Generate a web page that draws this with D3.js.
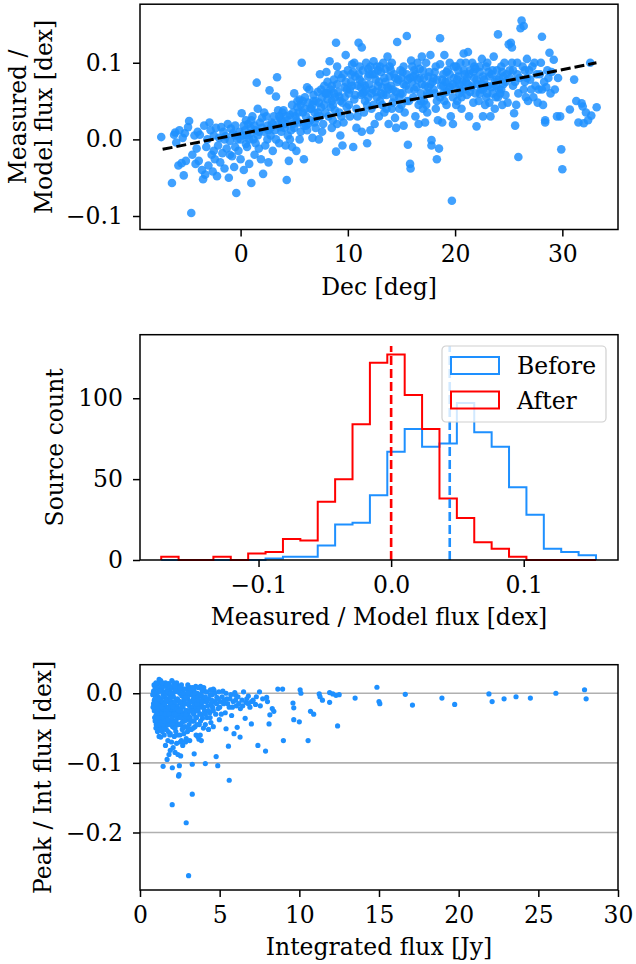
<!DOCTYPE html>
<html>
<head>
<meta charset="utf-8">
<script src="https://cdn.jsdelivr.net/npm/d3@7"></script>
<style>
  body { margin: 0; background: #fff; }
  text { font-family: "DejaVu Serif", serif; }
</style>
</head>
<body>
<script>
// ---- top panel: Dec vs measured/model flux ----
const decFlux = [
  [-7.4,0.003],[-6.4,-0.057],[-6.2,0.006],[-6.0,-0.004],[-6.1,0.009],
  [-5.8,-0.034],[-5.7,0.012],[-5.5,-0.031],[-5.4,0.002],[-5.3,-0.047],[-5.2,0.008],[-5.1,-0.028],
  [-4.9,0.016],[-4.8,0.024],[-4.6,-0.096],[-4.5,-0.02],[-4.3,0.005],[-4.2,-0.032],[-4.1,-0.012],[-4.0,0.01],
  [-3.9,-0.028],[-3.8,0.006],[-3.6,-0.04],[-3.5,-0.052],[-3.4,0.018],[-3.3,-0.046],[-3.2,-0.01],[-3.1,0.0],[-3.0,-0.034],
  [-2.9,0.022],[-2.8,0.012],[-2.7,-0.02],[-2.6,-0.042],[-2.5,0.005],[-2.4,-0.026],[-2.3,0.015],[-2.2,-0.048],[-2.1,-0.008],[-2.0,0.002],
  [-1.9,-0.03],[-1.8,0.016],[-1.7,-0.018],[-1.6,0.01],[-1.5,-0.038],[-1.4,0.004],[-1.3,-0.012],[-1.2,0.02],[-1.1,-0.05],[-1.0,-0.002],
  [-0.9,0.014],[-0.8,-0.022],[-0.7,0.008],[-0.6,-0.036],[-0.5,0.018],[-0.4,-0.07],[-0.3,0.0],[-0.2,-0.015],[-0.1,0.01],[0.0,-0.026],
  [0.1,0.034],[0.2,0.005],[0.3,-0.04],[0.4,0.012],[0.5,0.025],[0.6,-0.01],[0.7,0.02],[0.8,-0.032],[0.9,0.008],[0.95,0.015],[0.5,-0.006],
  [1.0,-0.057],[1.1,0.03],[1.2,0.0],[1.3,-0.02],[1.4,0.012],[1.5,0.074],[1.6,0.04],[1.7,-0.012],[1.8,0.022],[1.9,-0.026],[1.3,0.018],[1.6,0.005],
  [2.0,0.028],[2.1,-0.045],[2.2,0.01],[2.3,-0.008],[2.4,0.03],[2.5,0.018],[2.6,-0.03],[2.7,0.064],[2.8,0.005],[2.9,0.022],[2.2,0.035],[2.6,0.012],
  [3.0,-0.015],[3.1,0.03],[3.2,0.012],[3.3,0.056],[3.4,0.081],[3.5,0.02],[3.6,-0.005],[3.7,0.028],[3.8,0.01],[3.9,0.035],[3.3,0.0],[3.7,0.016],
  [4.0,0.038],[4.1,0.015],[4.2,-0.008],[4.3,-0.053],[4.4,0.025],[4.5,-0.028],[4.6,0.032],[4.7,0.012],[4.8,0.045],[4.9,0.02],[4.4,0.005],[4.8,-0.01],
  [5.0,0.06],[5.1,0.03],[5.2,-0.015],[5.3,0.042],[5.4,0.022],[5.5,0.052],[5.6,0.01],[5.7,0.1],[5.8,0.035],[5.9,-0.026],[5.2,0.025],[5.6,0.045],[5.9,0.018],
  [6.0,0.055],[6.1,0.03],[6.2,0.012],[6.3,0.048],[6.4,0.065],[6.5,0.025],[6.6,0.04],[6.7,0.002],[6.8,0.058],[6.9,0.035],[6.3,0.02],[6.7,0.045],
  [7.0,0.05],[7.1,0.028],[7.2,0.062],[7.3,0.0],[7.4,0.085],[7.5,0.042],[7.6,0.055],[7.7,0.02],[7.8,0.07],[7.9,0.035],[7.3,0.048],[7.6,0.01],[7.9,0.06],
  [8.0,0.088],[8.1,0.052],[8.2,0.03],[8.3,0.102],[8.4,0.065],[8.5,0.015],[8.6,0.045],[8.7,0.078],[8.8,0.038],[8.9,0.126],[8.2,0.06],[8.5,0.07],[8.8,0.055],[8.9,-0.016],
  [9.0,0.095],[9.1,0.062],[9.2,0.035],[9.3,0.005],[9.4,0.08],[9.5,0.048],[9.6,0.022],[9.7,0.068],[9.8,0.11],[9.9,0.042],[9.2,0.056],[9.5,-0.008],[9.8,0.075],[9.0,0.02],
  [10.0,0.09],[10.1,0.06],[10.2,0.03],[10.3,0.075],[10.4,0.098],[10.5,-0.01],[10.6,0.052],[10.7,0.082],[10.8,0.04],[10.9,0.07],[10.2,0.065],[10.5,0.088],[10.8,0.015],[11.0,0.126],
  [11.1,0.078],[11.2,0.058],[11.3,0.12],[11.4,0.09],[11.5,0.035],[11.6,0.07],[11.7,0.1],[11.8,0.045],[11.9,0.082],[11.2,0.068],[11.5,0.062],[11.8,-0.005],[11.3,0.01],[11.9,0.055],
  [12.0,0.072],[12.1,0.095],[12.2,0.04],[12.3,0.065],[12.4,0.102],[12.5,0.02],[12.6,0.078],[12.7,0.055],[12.8,0.09],[12.9,0.03],[12.3,0.085],[12.6,0.062],[12.9,0.075],[12.1,0.012],
  [13.0,0.05],[13.1,0.088],[13.2,0.068],[13.3,0.1],[13.4,0.035],[13.5,0.075],[13.6,0.058],[13.7,0.108],[13.8,0.02],[13.9,0.082],[13.2,0.045],[13.5,0.092],[13.8,0.065],
  [14.0,0.07],[14.1,0.1],[14.2,0.048],[14.3,0.085],[14.4,0.028],[14.5,0.062],[14.6,0.127],[14.7,0.078],[14.8,0.04],[14.9,0.09],[14.2,0.065],[14.5,0.015],[14.8,0.055],
  [15.0,0.08],[15.1,0.06],[15.2,0.095],[15.3,0.035],[15.4,0.07],[15.5,0.135],[15.6,-0.007],[15.7,0.05],[15.8,-0.032],[15.85,-0.038],[15.9,0.103],[15.2,0.018],[15.5,0.085],[15.7,0.065],
  [16.0,0.075],[16.1,0.055],[16.2,0.09],[16.3,0.03],[16.4,0.068],[16.5,0.1],[16.6,0.045],[16.7,0.08],[16.8,0.06],[16.9,0.108],[16.3,0.085],[16.6,0.02],[16.9,0.072],
  [17.0,0.09],[17.1,0.05],[17.2,0.07],[17.3,0.1],[17.4,0.035],[17.5,0.082],[17.6,0.06],[17.7,0.11],[17.8,-0.001],[17.9,0.075],[17.3,0.045],[17.6,0.088],[17.8,-0.008],[17.2,0.022],
  [18.0,0.08],[18.1,0.06],[18.2,0.095],[18.3,-0.026],[18.4,0.025],[18.5,-0.012],[18.6,0.132],[18.7,0.07],[18.8,0.022],[18.9,0.085],[18.3,0.05],[18.6,0.098],[18.9,0.06],
  [19.0,0.11],[19.1,0.075],[19.2,0.045],[19.3,0.09],[19.4,0.065],[19.5,0.1],[19.6,0.03],[19.7,-0.08],[19.8,0.055],[19.9,0.08],[19.2,0.062],[19.5,0.085],[19.8,0.02],
  [20.0,0.07],[20.1,0.095],[20.2,0.05],[20.3,0.082],[20.4,0.06],[20.5,0.1],[20.6,0.04],[20.7,0.075],[20.8,0.112],[20.9,0.065],[20.3,0.09],[20.6,0.055],[20.9,0.085],
  [21.0,0.075],[21.1,0.058],[21.2,0.114],[21.3,0.03],[21.4,0.09],[21.5,0.068],[21.6,0.1],[21.7,0.048],[21.8,0.08],[21.9,0.06],[21.3,0.085],[21.6,0.07],[21.9,0.092],
  [22.0,0.017],[22.1,0.072],[22.2,0.05],[22.3,0.088],[22.4,0.065],[22.5,0.105],[22.6,0.03],[22.7,0.078],[22.8,0.045],[22.9,0.095],[22.3,0.06],[22.6,0.082],[22.9,0.07],
  [23.0,0.1],[23.1,0.07],[23.2,0.048],[23.3,0.03],[23.4,0.085],[23.5,0.06],[23.6,0.108],[23.7,0.075],[23.8,0.055],[23.9,0.09],[23.4,0.068],[23.7,0.04],
  [24.0,0.137],[24.1,0.08],[24.2,0.06],[24.3,0.095],[24.4,0.045],[24.5,0.072],[24.6,0.1],[24.7,0.058],[24.8,0.085],[24.9,0.048],[24.3,0.065],
  [25.0,0.124],[25.1,0.09],[25.2,0.126],[25.3,0.12],[25.4,0.07],[25.5,0.034],[25.6,0.018],[25.7,0.045],[25.8,0.085],[25.9,-0.023],[25.3,0.1],[25.6,0.075],[25.9,0.06],
  [26.1,0.145],[26.2,0.155],[26.4,0.148],[26.3,0.095],[26.5,0.075],[26.6,0.055],[26.7,0.08],[26.8,0.05],[26.9,0.09],[26.4,0.065],[26.7,0.105],
  [27.0,0.078],[27.2,0.095],[27.3,0.055],[27.5,0.07],[27.7,0.048],[27.9,0.085],[27.4,0.1],[27.8,0.065],
  [28.0,0.1],[28.1,0.134],[28.2,0.045],[28.3,0.075],[28.4,0.025],[28.5,0.068],[28.6,0.09],[28.8,0.113],[28.9,0.06],[28.4,0.022],
  [29.0,0.088],[29.2,0.104],[29.3,0.065],[29.5,0.03],[29.8,0.03],[29.9,-0.013],[30.0,-0.039],[29.6,0.08],
  [30.7,0.039],[31.1,0.078],[31.5,0.022],[31.8,0.047],[31.9,0.043],[32.0,0.021],[32.2,0.035],[32.6,0.1],[32.7,0.031],[33.2,0.042],[32.4,0.025],[31.3,0.05],
  // denser core
  [4.2,0.02],[4.6,0.0],[5.0,0.015],[5.4,0.035],[5.8,0.05],[6.1,0.018],[6.5,0.04],[6.9,0.022],[7.2,0.035],[7.5,0.065],[7.8,0.045],[4.9,0.035],[5.5,0.0],[6.2,0.068],[7.0,0.015],
  [8.1,0.075],[8.4,0.042],[8.7,0.06],[9.0,0.072],[9.3,0.05],[9.6,0.085],[9.9,0.065],[10.1,0.045],[10.4,0.07],[10.7,0.058],[11.0,0.085],[11.3,0.075],[11.6,0.05],[11.9,0.092],[8.6,0.025],[9.4,0.03],[10.9,0.03],[11.4,0.06],
  [12.2,0.06],[12.5,0.085],[12.8,0.07],[13.1,0.06],[13.4,0.08],[13.7,0.068],[14.0,0.09],[14.3,0.055],[14.6,0.075],[14.9,0.06],[15.2,0.072],[15.5,0.05],[15.8,0.08],[12.4,0.045],[13.0,0.095],[14.1,0.04],[15.0,0.045],[13.6,0.04],
  [16.2,0.065],[16.5,0.078],[16.8,0.05],[17.1,0.08],[17.4,0.06],[17.7,0.072],[18.0,0.065],[18.3,0.078],[18.6,0.055],[18.9,0.07],[19.2,0.088],[19.5,0.068],[19.8,0.072],[16.0,0.095],[17.0,0.04],[18.2,0.04],[19.0,0.05],
  [20.2,0.078],[20.5,0.065],[20.8,0.09],[21.1,0.08],[21.4,0.062],[21.7,0.088],[22.0,0.078],[22.3,0.095],[22.6,0.065],[22.9,0.055],[23.2,0.082],[23.5,0.09],[23.8,0.07],[24.1,0.065],[24.4,0.088],[24.7,0.075],[20.1,0.045],[21.0,0.1],[23.0,0.06],[24.0,0.055],
  [-2.5,-0.015],[-1.5,0.0],[-0.5,0.005],[0.3,0.018],[0.8,0.0],[1.4,-0.005],[2.0,0.015],[2.5,0.0],[3.0,0.02],[3.5,0.038],[3.8,0.025],[-1.0,-0.02],[0.0,0.0],[1.0,0.025],
  [25.4,0.09],[26.0,0.08],[26.5,0.09],[27.1,0.065],[27.6,0.085],[28.1,0.065],[28.7,0.08],[25.8,0.1],
  [5.3,0.05],[6.0,0.04],[6.8,0.05],[7.4,0.03],[8.0,0.06],[8.5,0.05],[9.1,0.085],[9.7,0.055],[10.3,0.085],[10.6,0.1],
  [11.1,0.095],[11.7,0.065],[12.0,0.085],[12.7,0.095],[13.3,0.058],[13.9,0.095],[14.4,0.08],[15.1,0.088],[15.6,0.078],[16.1,0.082],
  [16.7,0.092],[17.5,0.068],[18.1,0.088],[18.8,0.078],[19.3,0.075],[19.9,0.095],[20.4,0.072],[21.2,0.072],[21.8,0.095],[22.5,0.072],
  [23.1,0.088],[23.9,0.078],[24.5,0.082],[25.1,0.08],[2.8,0.015],[3.6,0.03],[4.3,0.03],[-0.5,-0.01],[0.6,0.005],[1.7,0.01]
];
const fitDec = [-7.27, 33.18];
const fitVal = [-0.013, 0.0999];

// ---- middle panel: histograms ----
const binLo = -0.1734, binHi = 0.1545, nBins = 25;
const countsBefore = [0,0,0,0,0,0,1,2,2,9,22,23,40,67,81,70,72,97,79,70,45,28,7,5,3];
const countsAfter  = [2,0,0,2,0,4,5,13,12,36,50,84,122,127,102,81,38,26,11,7,2,0,0,0,0];
const medianBefore = 0.0442, medianAfter = 0.0, medianLineTop = 132.3;
const legendLabels = ["Before", "After"];

// ---- bottom panel: integrated flux vs peak/int ----
const fluxRatio = [
  [0.8,-0.002],[0.85,0.003],[0.9,-0.01],[0.9,-0.025],[0.95,0.008],[0.95,-0.018],[1.0,-0.004],[1.0,-0.032],[1.05,0.012],[1.05,-0.012],
  [1.1,-0.022],[1.1,0.001],[1.12,-0.04],[1.15,0.006],[1.15,-0.028],[1.18,-0.015],[1.2,0.02],[1.2,-0.05],[1.2,-0.062],[0.85,-0.015],
  [0.92,-0.035],[1.02,-0.045],[1.08,-0.006],[1.17,-0.035],
  [1.25,0.015],[1.25,-0.008],[1.3,-0.02],[1.3,-0.063],[1.32,0.004],[1.35,-0.03],[1.35,-0.045],[1.38,-0.012],[1.4,0.008],[1.4,-0.055],
  [1.42,-0.025],[1.45,-0.105],[1.45,-0.002],[1.48,-0.038],[1.5,-0.015],[1.5,0.012],[1.52,-0.06],[1.55,-0.028],[1.55,-0.005],[1.58,-0.045],
  [1.6,-0.075],[1.28,-0.04],[1.33,-0.01],[1.43,-0.018],[1.53,-0.035],[1.57,0.002],
  [1.62,0.01],[1.62,-0.02],[1.65,-0.052],[1.68,-0.008],[1.7,-0.035],[1.7,-0.095],[1.72,0.004],[1.75,-0.025],[1.75,-0.068],[1.78,-0.012],
  [1.8,0.014],[1.8,-0.045],[1.82,-0.088],[1.85,-0.03],[1.85,-0.002],[1.88,-0.018],[1.9,-0.058],[1.9,-0.082],[1.92,0.006],[1.95,-0.04],
  [1.95,-0.012],[1.98,-0.025],[1.98,-0.07],[1.66,-0.04],[1.77,-0.055],[1.87,-0.06],[1.93,-0.03],
  [2.02,-0.16],[2.03,-0.107],[2.02,0.008],[2.05,-0.02],[2.05,-0.048],[2.08,-0.078],[2.1,-0.005],[2.1,-0.032],[2.12,0.015],[2.15,-0.015],
  [2.15,-0.062],[2.18,-0.04],[2.2,0.002],[2.2,-0.085],[2.22,-0.025],[2.25,-0.01],[2.25,-0.055],[2.28,0.012],[2.3,-0.035],[2.3,-0.072],
  [2.32,-0.018],[2.35,-0.045],[2.35,0.005],[2.38,-0.028],[2.38,-0.088],[2.07,-0.03],[2.17,-0.05],[2.27,-0.04],[2.33,-0.06],
  [2.42,-0.119],[2.45,-0.117],[2.47,-0.104],[2.42,0.01],[2.45,-0.012],[2.48,-0.035],[2.5,-0.06],[2.5,0.0],[2.52,-0.022],[2.55,-0.045],
  [2.55,-0.09],[2.58,0.008],[2.6,-0.015],[2.6,-0.068],[2.62,-0.03],[2.65,-0.004],[2.65,-0.052],[2.68,-0.075],[2.7,-0.02],[2.7,0.005],
  [2.72,-0.04],[2.75,-0.01],[2.75,-0.058],[2.78,-0.028],[2.53,-0.07],[2.63,-0.042],
  [2.82,-0.048],[2.85,-0.003],[2.88,-0.025],[2.9,-0.186],[2.9,-0.065],[2.92,0.006],[2.95,-0.015],[2.95,-0.038],[2.98,-0.055],[3.0,-0.008],
  [3.05,-0.262],[3.02,-0.03],[3.05,0.004],[3.08,-0.045],[3.1,-0.018],[3.12,-0.068],[3.15,-0.002],[3.15,-0.035],[3.18,-0.025],[3.2,-0.012],
  [2.86,-0.07],[3.0,-0.05],
  [3.22,-0.052],[3.25,0.002],[3.28,-0.145],[3.28,-0.102],[3.3,-0.02],[3.32,-0.04],[3.35,-0.008],[3.38,-0.03],[3.4,-0.087],[3.4,0.005],
  [3.42,-0.015],[3.45,-0.048],[3.48,-0.025],[3.5,-0.005],[3.52,-0.06],[3.55,-0.035],[3.58,-0.012],[3.6,0.0],[3.35,-0.05],[3.5,-0.02],
  [3.62,-0.062],[3.65,-0.025],[3.68,0.008],[3.7,-0.066],[3.72,-0.045],[3.75,-0.012],[3.78,-0.06],[3.8,0.01],[3.82,-0.03],[3.85,-0.068],
  [3.88,-0.004],[3.9,-0.02],[3.92,-0.036],[3.95,-0.008],[3.98,-0.05],[3.7,-0.02],[3.85,-0.015],
  [4.02,0.003],[4.05,-0.025],[4.1,-0.101],[4.1,-0.045],[4.12,-0.012],[4.18,0.002],[4.2,-0.035],[4.25,-0.018],[4.3,-0.052],[4.32,-0.008],
  [4.38,-0.028],[4.42,0.005],[4.45,-0.042],[4.48,-0.015],
  [4.52,-0.002],[4.55,-0.02],[4.6,-0.048],[4.65,0.004],[4.7,-0.012],[4.75,-0.03],[4.78,-0.091],[4.82,-0.006],[4.88,-0.104],[4.9,-0.022],
  [4.95,0.002],[4.98,-0.038],
  [5.05,-0.012],[5.1,-0.03],[5.2,0.003],[5.25,-0.015],[5.35,-0.028],[5.4,-0.051],[5.45,-0.008],[5.55,-0.076],[5.6,-0.125],[5.6,-0.02],
  [5.7,-0.002],[5.75,-0.032],[5.85,-0.012],[5.9,-0.058],[5.95,0.001],
  [6.05,-0.018],[6.1,-0.049],[6.15,-0.005],[6.28,-0.063],[6.3,-0.022],[6.4,-0.01],[6.5,0.002],[6.6,-0.036],[6.65,-0.013],[6.8,-0.004],
  [6.9,-0.02],[6.99,-0.044],
  [7.1,-0.01],[7.25,-0.016],[7.4,-0.075],[7.5,0.002],[7.55,-0.018],[7.7,-0.008],[7.88,-0.083],[7.95,-0.006],[8.0,-0.012],[8.1,-0.044],
  [8.15,-0.031],[8.3,-0.022],[8.4,-0.026],
  [8.65,0.006],[8.95,0.006],[9.0,-0.068],[9.6,-0.014],[9.65,-0.021],[9.65,-0.038],[10.0,-0.041],[10.05,0.005],[10.1,0.0],[10.55,-0.068],
  [10.7,-0.026],[10.9,-0.03],[11.25,-0.001],[11.3,-0.005],[11.45,-0.01],[11.9,-0.013],[11.9,0.001],[12.1,-0.001],[12.3,-0.003],[12.4,-0.047],
  [12.5,-0.002],[13.5,-0.007],[14.87,0.0086],[15.0,-0.012],[15.05,-0.015],[16.65,-0.0015],[17.1,-0.017],[18.95,-0.007],[19.75,-0.016],
  [21.9,-0.001],[22.1,-0.012],[22.85,-0.008],[23.6,-0.005],[24.5,-0.007],[26.1,0.0],[27.9,0.005],[28.0,-0.008],
  // denser core
  [0.9,0.0],[0.95,-0.008],[1.0,0.008],[1.05,-0.02],[1.1,-0.01],[1.15,-0.005],[1.2,-0.025],[1.25,0.003],[1.3,-0.03],[1.35,0.01],
  [1.4,-0.035],[1.45,-0.022],[1.5,-0.005],[1.55,-0.015],[1.6,0.0],[1.65,-0.025],[1.7,-0.01],[1.75,0.002],[1.8,-0.02],[1.85,-0.04],
  [1.9,-0.008],[1.95,0.0],[2.0,-0.015],[2.05,0.0],[2.1,-0.02],[2.15,-0.03],[2.2,-0.012],[2.25,0.004],[2.3,-0.022],[2.35,-0.008],
  [2.4,-0.03],[2.45,0.002],[2.5,-0.012],[2.55,-0.025],[2.6,-0.002],[2.65,-0.018],[2.7,-0.032],[2.75,0.0],[2.8,-0.015],[2.85,-0.035],
  [2.9,-0.005],[2.95,-0.025],[3.0,0.0],[3.05,-0.015],[3.1,-0.035],[3.15,0.008],[3.2,-0.025],[3.25,-0.012],[3.3,-0.002],[3.35,-0.028],
  [3.4,-0.01],[3.45,0.0],[3.5,-0.035],[3.55,-0.015],[3.6,-0.025],[3.65,-0.005],[3.7,-0.01],[3.75,-0.03],[3.8,-0.002],[3.9,-0.012],
  [4.0,-0.02],[4.1,-0.005],[4.2,-0.012],[4.3,-0.025],[4.4,-0.002],[4.5,-0.01],[4.6,-0.025],[4.7,0.0],[4.8,-0.015],[4.9,-0.008],
  [5.0,-0.02],[5.15,-0.005],[5.3,-0.01],[5.5,-0.015],[5.65,-0.008],[5.8,-0.02],[6.0,-0.01],[6.2,-0.015],[6.45,-0.018],[6.7,-0.008],
  [7.0,-0.012],[7.3,-0.005],[1.0,-0.05],[1.1,-0.045],[1.3,-0.052],[1.5,-0.05],[1.7,-0.045],[1.2,-0.035],[1.4,-0.045],[1.0,0.015],
  [1.3,0.018],[1.6,0.015],[2.0,0.018],[2.3,0.015],[2.6,0.012],[3.0,0.012],[3.5,0.01],[4.0,0.008],[1.15,-0.018],[0.82,-0.02],[0.88,0.012],
  [1.0,-0.015],[1.05,-0.03],[1.1,-0.035],[1.2,-0.008],[1.25,-0.045],[1.35,-0.02],[1.45,-0.045],[1.55,-0.04],[1.6,-0.03],[1.65,-0.01],
  [1.75,-0.038],[1.8,-0.03],[1.9,-0.045],[2.0,-0.035],[2.1,-0.045],[2.2,-0.05],[2.25,-0.03],[2.4,-0.045],[2.45,-0.025],[2.55,-0.035],
  [2.7,-0.05],[2.8,-0.04],[2.9,-0.03],[3.1,-0.025],[3.2,-0.04],[3.4,-0.04],[3.6,-0.045],[3.8,-0.04],[4.1,-0.03],[4.4,-0.035],
  [1.4,0.015],[1.7,0.012],[1.9,0.01],[2.2,0.01],[2.5,0.008],[2.8,0.006],[3.3,0.008],[3.9,0.004],[4.6,0.006],[5.4,0.0],
  [6.0,-0.003],[6.8,-0.015],[0.95,-0.04],[1.1,-0.055]
];

const W = 636, H = 964;
const L = 140, R = 618, PH = 225.3;
const FS = 23.5;

const svg = d3.select("body").append("svg")
  .attr("width", W).attr("height", H)
  .style("background", "#fff");

// builds the scales for one panel
function panel(top, xDom, yDom){
  return {
    top: top, bottom: top + PH,
    x: d3.scaleLinear().domain(xDom).range([L, R]),
    y: d3.scaleLinear().domain(yDom).range([top + PH, top])
  };
}

function styleAxis(g){
  g.select(".domain").remove();
  g.selectAll(".tick line").attr("stroke", "#000").attr("stroke-width", 1.5);
  g.selectAll(".tick text").attr("font-size", FS).attr("fill", "#000")
    .attr("font-family", "DejaVu Serif, serif");
}

function axes(p, xTicks, xFmt, yTicks, yFmt, xLabel, yLabels, yLabelX){
  svg.append("g").attr("transform", "translate(0," + p.bottom + ")")
    .call(d3.axisBottom(p.x).tickValues(xTicks).tickFormat(xFmt).tickSize(7).tickPadding(9))
    .call(styleAxis);
  svg.append("g").attr("transform", "translate(" + L + ",0)")
    .call(d3.axisLeft(p.y).tickValues(yTicks).tickFormat(yFmt).tickSize(7).tickPadding(10))
    .call(styleAxis);
  // frame
  svg.append("rect").attr("x", L).attr("y", p.top).attr("width", R - L).attr("height", PH)
    .attr("fill", "none").attr("stroke", "#000").attr("stroke-width", 1.5);
  svg.append("text").attr("x", (L + R) / 2).attr("y", p.bottom + 65)
    .attr("text-anchor", "middle").attr("font-size", FS).text(xLabel);
  const cy = p.top + PH / 2;
  yLabels.forEach(function(t, i){
    svg.append("text")
      .attr("transform", "translate(" + yLabelX[i] + "," + cy + ") rotate(-90)")
      .attr("text-anchor", "middle").attr("dy", "0.35em")
      .attr("font-size", FS).text(t);
  });
}

/* ---------- top ---------- */
const p1 = panel(4.2, [-9.38, 35.19], [-0.1176, 0.1764]);
svg.append("g").selectAll("circle").data(decFlux).enter().append("circle")
  .attr("cx", d => p1.x(d[0])).attr("cy", d => p1.y(d[1])).attr("r", 4.3)
  .attr("fill", "dodgerblue").attr("fill-opacity", 0.85);
svg.append("path")
  .datum(d3.zip(fitDec, fitVal))
  .attr("d", d3.line().x(d => p1.x(d[0])).y(d => p1.y(d[1])))
  .attr("stroke", "#000").attr("stroke-width", 3).attr("stroke-dasharray", "10,4")
  .attr("fill", "none");
axes(p1, [0, 10, 20, 30], d3.format("d"), [-0.1, 0, 0.1], d3.format(".1f"),
  "Dec [deg]", ["Measured /", "Model flux [dex]"], [18, 44]);

/* ---------- middle ---------- */
const p2 = panel(334.7, [-0.1894, 0.1711], [0, 139.3]);
const bw = (binHi - binLo) / nBins;
const edges = d3.range(nBins + 1).map(i => binLo + i * bw);

function stepPath(counts){
  const pts = [[edges[0], 0]];
  counts.forEach(function(c, i){
    pts.push([edges[i], c]);
    pts.push([edges[i + 1], c]);
  });
  pts.push([edges[nBins], 0]);
  return d3.line().x(d => p2.x(d[0])).y(d => p2.y(d[1]))(pts);
}
const histColors = ["dodgerblue", "red"];
[countsBefore, countsAfter].forEach(function(c, i){
  svg.append("path").attr("d", stepPath(c)).attr("fill", "none")
    .attr("stroke", histColors[i]).attr("stroke-width", 2);
});
[medianBefore, medianAfter].forEach(function(m, i){
  svg.append("line")
    .attr("x1", p2.x(m)).attr("x2", p2.x(m))
    .attr("y1", p2.y(0)).attr("y2", p2.y(medianLineTop))
    .attr("stroke", histColors[i]).attr("stroke-width", 2.6).attr("stroke-dasharray", "9,4");
});
axes(p2, [-0.1, 0, 0.1], d3.format(".1f"), [0, 50, 100], d3.format("d"),
  "Measured / Model flux [dex]", ["Source count"], [55]);

// legend
const lg = svg.append("g").attr("transform", "translate(442,346)");
lg.append("rect").attr("width", 164).attr("height", 76).attr("rx", 4)
  .attr("fill", "#fff").attr("fill-opacity", 0.8).attr("stroke", "#d0d0d0").attr("stroke-width", 1.2);
legendLabels.forEach(function(t, i){
  lg.append("rect").attr("x", 9).attr("y", 11 + i * 34.5).attr("width", 48).attr("height", 17)
    .attr("fill", "none").attr("stroke", histColors[i]).attr("stroke-width", 2);
  lg.append("text").attr("x", 75).attr("y", 28 + i * 34.5).attr("font-size", FS).text(t);
});

/* ---------- bottom ---------- */
const p3 = panel(664.7, [0, 30], [-0.2826, 0.041]);
svg.append("g").selectAll("line").data([0, -0.1, -0.2]).enter().append("line")
  .attr("x1", L).attr("x2", R).attr("y1", d => p3.y(d)).attr("y2", d => p3.y(d))
  .attr("stroke", "#b0b0b0").attr("stroke-width", 1.6);
svg.append("g").selectAll("circle").data(fluxRatio).enter().append("circle")
  .attr("cx", d => p3.x(d[0])).attr("cy", d => p3.y(d[1])).attr("r", 2.6)
  .attr("fill", "dodgerblue");
axes(p3, [0, 5, 10, 15, 20, 25, 30], d3.format("d"), [-0.2, -0.1, 0], d3.format(".1f"),
  "Integrated flux [Jy]", ["Peak / Int flux [dex]"], [43]);
</script>
</body>
</html>
